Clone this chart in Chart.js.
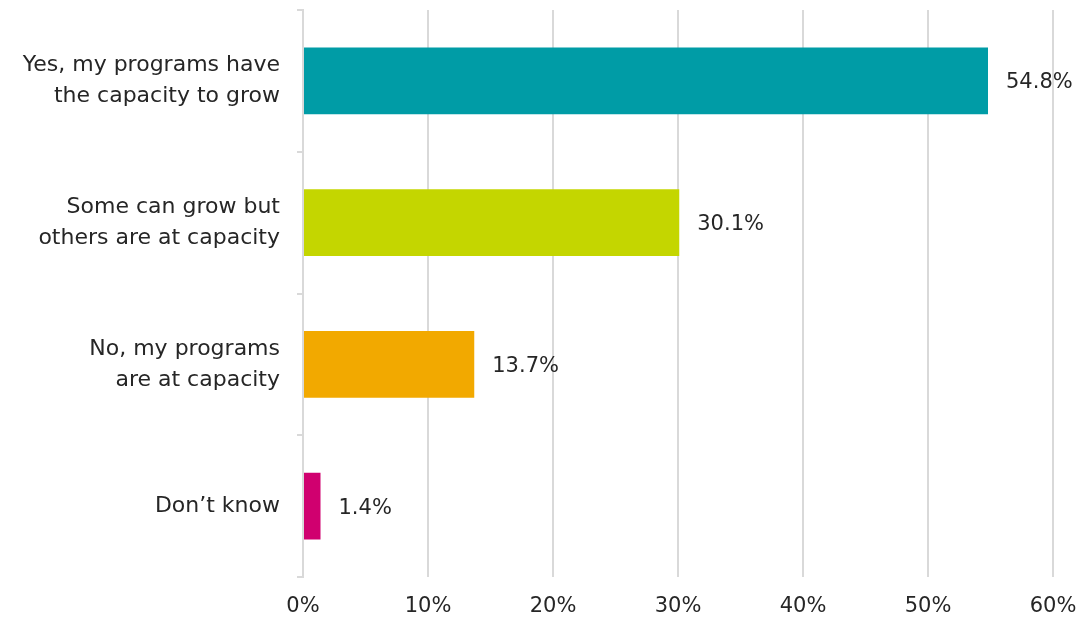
<!DOCTYPE html>
<html>
<head>
<meta charset="utf-8">
<script src="https://cdn.jsdelivr.net/npm/chart.js@4"></script>
<style>
  html, body { margin: 0; padding: 0; background: #fff; }
  #wrap { width: 1081px; height: 620px; }
</style>
</head>
<body>
<div id="wrap"><canvas id="capacity-chart" width="1081" height="620"></canvas></div>
<script>
const categories = [
    ['Yes, my programs have', 'the capacity to grow'],
    ['Some can grow but', 'others are at capacity'],
    ['No, my programs', 'are at capacity'],
    'Don\u2019t know'
];
const shares = [54.8, 30.1, 13.7, 1.4];
const barColors = ['#009ca6', '#c4d600', '#f2a900', '#d0006f'];
const xTicks = [0, 10, 20, 30, 40, 50, 60];

const fontFamily = '"DejaVu Sans", sans-serif';
const textColor = '#262626';
const gridColor = '#d9d9d9';

// draws "54.8%" etc just past the end of each bar
const valueLabels = {
    id: 'valueLabels',
    afterDatasetsDraw(chart) {
        const ctx = chart.ctx;
        const meta = chart.getDatasetMeta(0);
        ctx.save();
        ctx.font = '21px ' + fontFamily;
        ctx.fillStyle = textColor;
        ctx.textAlign = 'left';
        ctx.textBaseline = 'middle';
        meta.data.forEach((bar, i) => {
            ctx.fillText(shares[i].toFixed(1) + '%', bar.x + 18, bar.y + 2);
        });
        ctx.restore();
    }
};

const capacityConfig = {
    type: 'bar',
    data: {
        labels: categories,
        datasets: [{
            data: shares,
            backgroundColor: barColors,
            borderWidth: 0,
            barPercentage: 0.47,
            categoryPercentage: 1
        }]
    },
    options: {
        indexAxis: 'y',
        responsive: false,
        animation: false,
        layout: { padding: { top: 10, right: 28, bottom: 1, left: 0 } },
        plugins: {
            legend: { display: false },
            tooltip: { enabled: false }
        },
        scales: {
            x: {
                min: 0,
                max: 60,
                afterBuildTicks(scale) {
                    scale.ticks = xTicks.map(v => ({ value: v }));
                },
                afterFit(scale) {
                    scale.height = 42;
                    scale.paddingLeft = 0;
                    scale.paddingRight = 0;
                },
                grid: {
                    color: gridColor,
                    lineWidth: 2,
                    drawTicks: false
                },
                border: { display: false },
                ticks: {
                    padding: 17,
                    color: textColor,
                    font: { family: fontFamily, size: 21 },
                    callback: v => v + '%'
                }
            },
            y: {
                afterFit(scale) {
                    scale.width = 303;
                    scale.paddingTop = 0;
                    scale.paddingBottom = 0;
                },
                grid: {
                    drawOnChartArea: false,
                    drawTicks: true,
                    tickLength: 6,
                    color: gridColor,
                    lineWidth: 2
                },
                border: { display: true, color: gridColor, width: 2 },
                ticks: {
                    padding: 17,
                    color: textColor,
                    font: { family: fontFamily, size: 22, lineHeight: 1.41 }
                }
            }
        }
    },
    plugins: [valueLabels]
};

const capacityChart = new Chart(
    document.getElementById('capacity-chart'),
    capacityConfig
);
</script>
</body>
</html>
